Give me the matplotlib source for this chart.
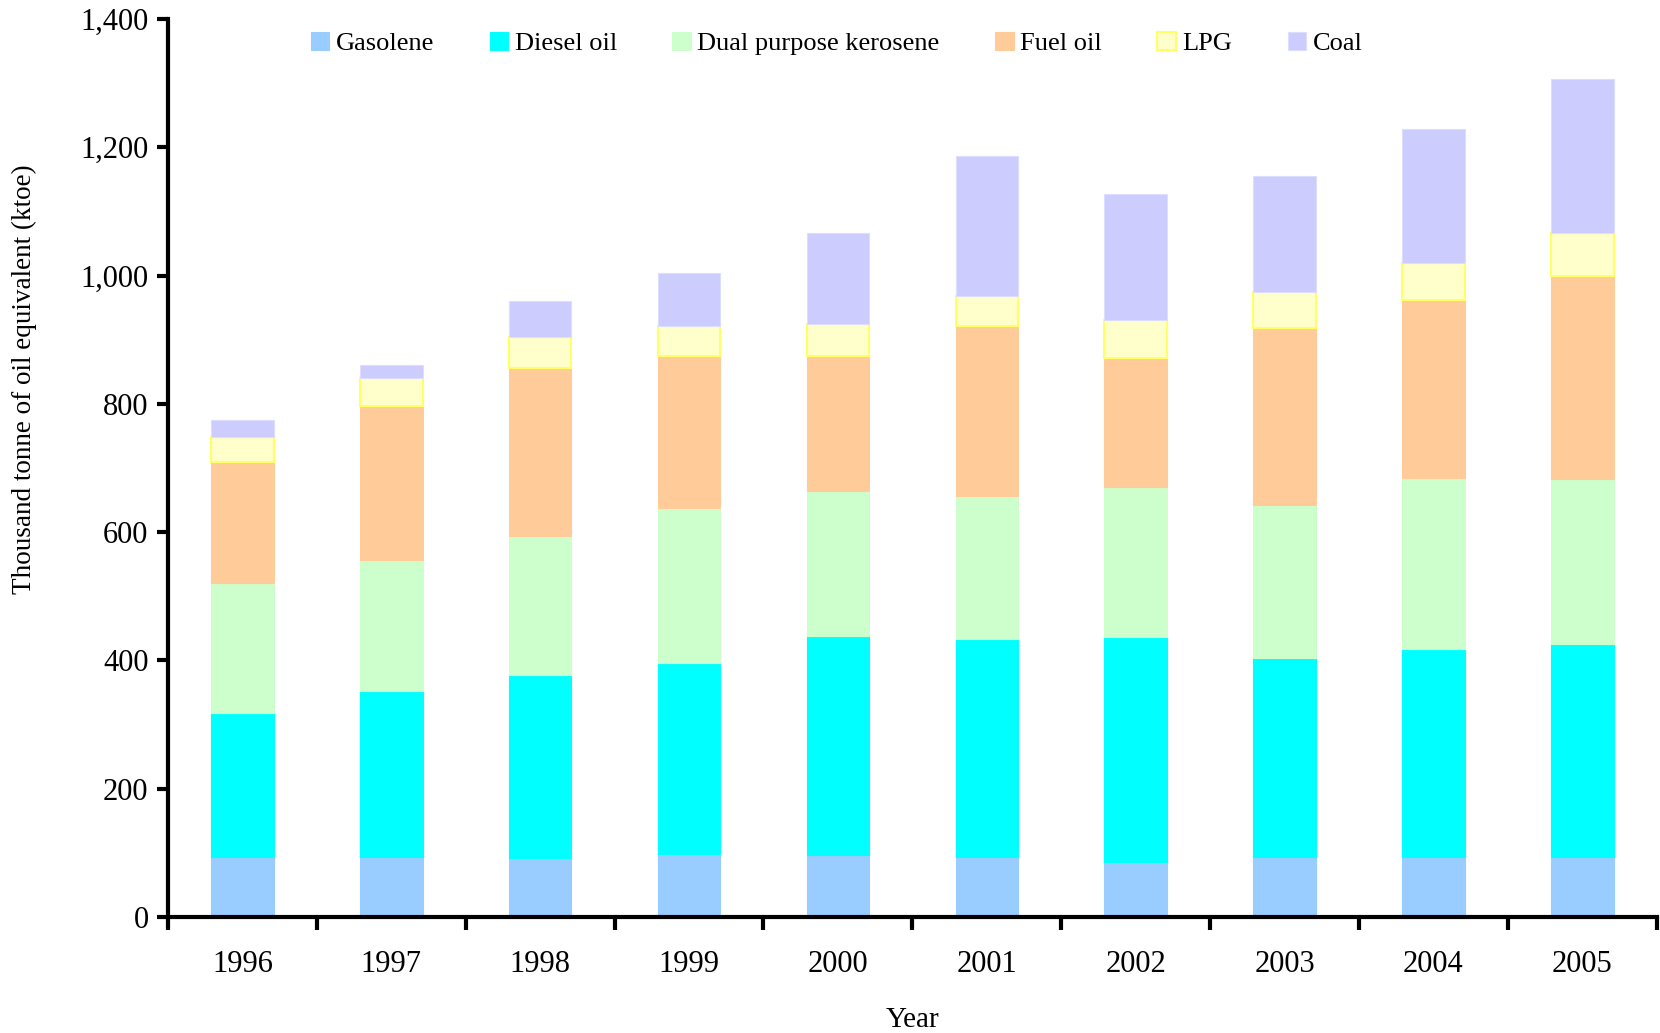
import matplotlib
matplotlib.use("Agg")
import matplotlib.pyplot as plt
import numpy as np
from matplotlib.ticker import FuncFormatter, FixedLocator

plt.rcParams['font.family'] = ['Liberation Serif', 'DejaVu Serif']

years = ['1996', '1997', '1998', '1999', '2000', '2001', '2002', '2003', '2004', '2005']
series = ['Gasolene', 'Diesel oil', 'Dual purpose kerosene', 'Fuel oil', 'LPG', 'Coal']

# valeurs (ktoe)
gasolene = [94, 94, 92, 98, 96, 94, 86, 94, 94, 94]
diesel = [224, 258, 286, 298, 342, 340, 350, 310, 324, 332]
kerosene = [203, 204, 216, 241, 226, 223, 234, 238, 266, 257]
fuel_oil = [188, 240, 262, 237, 210, 265, 201, 277, 278, 317]
lpg = [39, 44, 49, 47, 50, 46, 59, 55, 57, 67]
coal = [27, 20, 56, 83, 142, 218, 197, 182, 209, 239]

colors = ['#99CCFF', '#00FFFF', '#CCFFCC', '#FFCC99', '#FFFFCC', '#CCCCFF']
edges = ['#99CCFF', '#00FFFF', '#CCFFCC', '#FFCC99', '#FFFF66', '#DDDDFF']

fig = plt.figure(figsize=(16.6, 10.33), dpi=100)
ax = fig.add_axes([0.1012, 0.1123, 0.8968, 0.8693])

x = np.arange(len(years))
bottom = np.zeros(len(years))
for name, vals, c, ec in zip(series, [gasolene, diesel, kerosene, fuel_oil, lpg, coal], colors, edges):
    ax.bar(x, vals, width=0.42, bottom=bottom, color=c, edgecolor=ec,
           linewidth=1.5 if name == 'LPG' else 0.8, label=name)
    bottom += np.array(vals)

ax.set_xlim(-0.5, len(years) - 0.5)
ax.set_ylim(0, 1400)
ax.set_yticks(np.arange(0, 1401, 200))
ax.yaxis.set_major_formatter(FuncFormatter(lambda v, p: f"{int(v):,}"))

ax.set_xticks(x)
ax.set_xticklabels(years)
ax.xaxis.set_minor_locator(FixedLocator(np.arange(-0.5, len(years), 1.0)))
ax.tick_params(axis='x', which='major', length=0, pad=24, labelsize=22)
ax.tick_params(axis='x', which='minor', length=9, width=3, direction='out')
ax.tick_params(axis='y', which='major', length=8, width=3, direction='out', labelsize=22, pad=6)

for s in ['top', 'right']:
    ax.spines[s].set_visible(False)
for s in ['left', 'bottom']:
    ax.spines[s].set_linewidth(3)

ax.set_xlabel('Year', fontsize=21, labelpad=20)
ax.set_ylabel('Thousand tonne of oil equivalent (ktoe)', fontsize=19.5)
ax.yaxis.set_label_coords(-0.088, 0.599)

fig.legend(loc='center', bbox_to_anchor=(0.504, 0.958), ncol=6, frameon=False,
           fontsize=19, handlelength=0.7, handleheight=0.7, handletextpad=0.25,
           columnspacing=2.1)

fig.savefig('out.png', dpi=100)
